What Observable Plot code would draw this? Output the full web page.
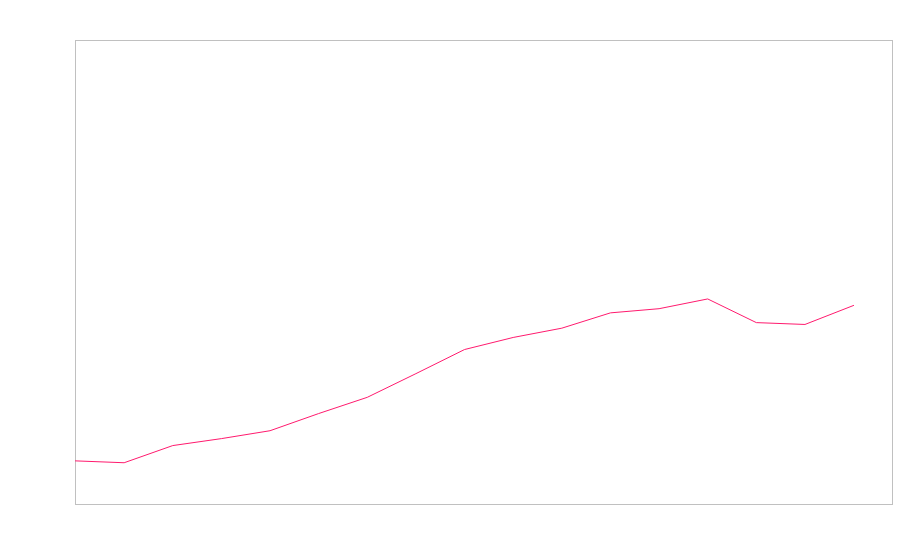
<!DOCTYPE html>
<html><head><meta charset="utf-8">
<script src="https://cdn.jsdelivr.net/npm/d3@7"></script>
<script src="https://cdn.jsdelivr.net/npm/@observablehq/plot@0.6"></script>
<style>body{margin:0;background:#fff}</style>
</head><body><div id="chart"></div>
<script>
const xIndex = [0,1,2,3,4,5,6,7,8,9,10,11,12,13,14,15,16];
const values = [9.4,9.0,12.7,14.2,15.9,19.6,23.1,28.2,33.4,36.0,38.0,41.3,42.2,44.3,39.2,38.8,42.9];
const data = xIndex.map((x,i)=>({x, y: values[i]}));
const chart = Plot.plot({
  width: 900, height: 560,
  marginLeft: 75, marginRight: 8, marginTop: 40, marginBottom: 56,
  x: {domain: [0, 16.8], axis: null},
  y: {domain: [0, 100], axis: null},
  marks: [
    Plot.frame({stroke: "#c0c0c0", strokeOpacity: 1}),
    Plot.line(data, {x: "x", y: "y", stroke: "#ff1a6e", strokeWidth: 1})
  ]
});
document.getElementById("chart").append(chart);
</script></body></html>
